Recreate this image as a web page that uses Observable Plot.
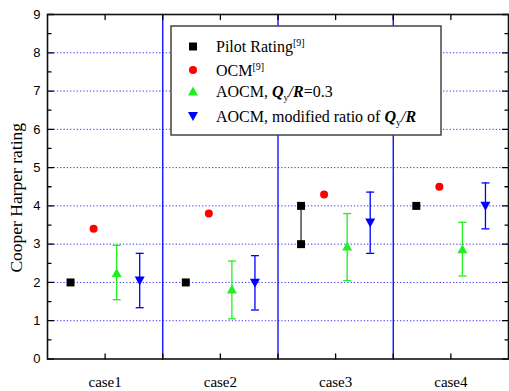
<!DOCTYPE html>
<html><head><meta charset="utf-8">
<script src="https://cdn.jsdelivr.net/npm/d3@7"></script>
<script src="https://cdn.jsdelivr.net/npm/@observablehq/plot@0.6"></script>
<style>body{margin:0;background:#fff} svg{display:block}</style>
</head><body><div id="chart"></div>
<script>
// ---- data ----
const cases = ["case1", "case2", "case3", "case4"];
const pilotLow = [2, 2, 3, 4];
const pilotHigh = [2, 2, 4, 4];
const ocm = [3.4, 3.8, 4.3, 4.5];
const aocm03 = [2.26, 1.83, 2.95, 2.88];
const aocm03Low = [1.55, 1.05, 2.05, 2.17];
const aocm03High = [2.97, 2.56, 3.80, 3.57];
const aocmMod = [2.04, 1.98, 3.55, 3.99];
const aocmModLow = [1.34, 1.28, 2.76, 3.40];
const aocmModHigh = [2.76, 2.70, 4.36, 4.60];
const yTicks = [0, 1, 2, 3, 4, 5, 6, 7, 8, 9];
const yLabel = "Cooper Harper rating";

// ---- derived tables ----
const caseX = cases.map((c, i) => i + 1);
const separators = caseX.slice(0, -1).map(x => x + 0.5);
const gridY = yTicks.slice(1, -1);
const minorY = yTicks.slice(0, -1).map(v => v + 0.5);
const xTickPos = [...caseX, ...separators];
const offs = {pilot: -0.3, ocm: -0.1, a03: 0.1, mod: 0.3};

const pilotRows = cases.map((c, i) => ({x: caseX[i] + offs.pilot, lo: pilotLow[i], hi: pilotHigh[i]}));
const pilotPts = pilotRows.flatMap(d => d.lo === d.hi ? [{x: d.x, y: d.lo}] : [{x: d.x, y: d.lo}, {x: d.x, y: d.hi}]);
const ocmRows = cases.map((c, i) => ({x: caseX[i] + offs.ocm, y: ocm[i]}));
const a03Rows = cases.map((c, i) => ({x: caseX[i] + offs.a03, y: aocm03[i], lo: aocm03Low[i], hi: aocm03High[i]}));
const modRows = cases.map((c, i) => ({x: caseX[i] + offs.mod, y: aocmMod[i], lo: aocmModLow[i], hi: aocmModHigh[i]}));

// ---- symbols ----
const triUp = {draw(ctx, size) { const r = Math.sqrt(size / Math.PI); ctx.moveTo(0, -0.9 * r); ctx.lineTo(r, 0.9 * r); ctx.lineTo(-r, 0.9 * r); ctx.closePath(); }};
const triDown = {draw(ctx, size) { const r = Math.sqrt(size / Math.PI); ctx.moveTo(0, 0.9 * r); ctx.lineTo(r, -0.9 * r); ctx.lineTo(-r, -0.9 * r); ctx.closePath(); }};
const capSym = {draw(ctx, size) { const r = Math.sqrt(size / Math.PI); ctx.moveTo(-r, 0); ctx.lineTo(r, 0); }};
const tickShape = {draw(ctx, l) { ctx.moveTo(0, 0); ctx.lineTo(0, -l); }};

const green = "#22ee22";
const blue = "#0000ff";

function errorBars(rows, color) {
  return [
    Plot.ruleX(rows, {x: "x", y1: "lo", y2: "hi", stroke: color, strokeWidth: 1.3}),
    Plot.dot(rows, {x: "x", y: "lo", symbol: capSym, r: 4, stroke: color, strokeWidth: 1.3, fill: "none"}),
    Plot.dot(rows, {x: "x", y: "hi", symbol: capSym, r: 4, stroke: color, strokeWidth: 1.3, fill: "none"})
  ];
}

const plot = Plot.plot({
  width: 509, height: 391,
  marginLeft: 47, marginRight: 1, marginTop: 14, marginBottom: 32.5,
  x: {domain: [0.5, 4.5]},
  y: {domain: [0, 9]},
  style: {background: "white", fontFamily: "'Liberation Serif', 'Times New Roman', serif"},
  marks: [
    Plot.ruleY(gridY, {stroke: "#3a3aff", strokeDasharray: "1.3,2", strokeWidth: 1}),
    Plot.ruleX(separators, {stroke: blue, strokeWidth: 1.3}),
    // inward ticks
    Plot.vector(yTicks, {y: d => d, frameAnchor: "left", rotate: 90, length: 6, anchor: "start", shape: tickShape, stroke: "#000", strokeWidth: 1.3}),
    Plot.vector(minorY, {y: d => d, frameAnchor: "left", rotate: 90, length: 3.5, anchor: "start", shape: tickShape, stroke: "#000", strokeWidth: 1.3}),
    Plot.vector(yTicks, {y: d => d, frameAnchor: "right", rotate: -90, length: 6, anchor: "start", shape: tickShape, stroke: "#000", strokeWidth: 1.3}),
    Plot.vector(minorY, {y: d => d, frameAnchor: "right", rotate: -90, length: 3.5, anchor: "start", shape: tickShape, stroke: "#000", strokeWidth: 1.3}),
    Plot.vector(xTickPos, {x: d => d, frameAnchor: "bottom", rotate: 0, length: 5, anchor: "start", shape: tickShape, stroke: "#000", strokeWidth: 1.3}),
    Plot.vector(xTickPos, {x: d => d, frameAnchor: "top", rotate: 180, length: 5, anchor: "start", shape: tickShape, stroke: "#000", strokeWidth: 1.3}),
    Plot.frame({stroke: "#111", strokeWidth: 1.6}),
    Plot.axisY({ticks: yTicks, tickSize: 0, tickPadding: 7, fontSize: 13, fontFamily: "'Liberation Sans', Arial, sans-serif", label: null}),
    Plot.axisX({ticks: caseX, tickSize: 0, tickPadding: 17.5, tickFormat: d => cases[d - 1], fontSize: 15, label: null}),
    Plot.text([yLabel], {frameAnchor: "left", rotate: -90, dx: -31, dy: 11, fontSize: 17.5, lineAnchor: "middle", textAnchor: "middle"}),
    // pilot
    Plot.ruleX(pilotRows.filter(d => d.lo !== d.hi), {x: "x", y1: "lo", y2: "hi", stroke: "#555", strokeWidth: 1.6}),
    Plot.dot(pilotPts, {x: "x", y: "y", symbol: "square", r: 4.5, fill: "#000"}),
    // OCM
    Plot.dot(ocmRows, {x: "x", y: "y", r: 4, fill: "#ff0000"}),
    // AOCM 0.3
    ...errorBars(a03Rows, green),
    Plot.dot(a03Rows, {x: "x", y: "y", symbol: triUp, r: 5, fill: green}),
    // AOCM modified
    ...errorBars(modRows, blue),
    Plot.dot(modRows, {x: "x", y: "y", symbol: triDown, r: 5, fill: blue})
  ]
});

// ---- legend (inside plot frame) ----
const svg = d3.select(plot);
const lg = svg.append("g").attr("font-family", "'Liberation Serif', 'Times New Roman', serif")
  .attr("font-size", 16).attr("fill", "#000").attr("text-anchor", "start");
lg.append("rect").attr("x", 171).attr("y", 26).attr("width", 270).attr("height", 109)
  .attr("fill", "#fff").attr("stroke", "#444").attr("stroke-width", 1.5);
const mx = 193, tx = 216;
const rowsY = [46.5, 70, 91, 116.5];
const sym = (s, r) => d3.symbol(s, Math.PI * r * r)();
lg.append("path").attr("transform", `translate(${mx},${rowsY[0]})`).attr("d", sym(d3.symbolSquare, 4.5)).attr("fill", "#000");
lg.append("path").attr("transform", `translate(${mx},${rowsY[1]})`).attr("d", sym(d3.symbolCircle, 4)).attr("fill", "#ff0000");
lg.append("path").attr("transform", `translate(${mx},${rowsY[2]})`).attr("d", sym(triUp, 5)).attr("fill", green);
lg.append("path").attr("transform", `translate(${mx},${rowsY[3]})`).attr("d", sym(triDown, 5)).attr("fill", blue);

function sup(t, base, s) {
  t.append("tspan").text(base);
  t.append("tspan").text(s).attr("font-size", 10).attr("dy", -6);
}
let t = lg.append("text").attr("x", tx).attr("y", rowsY[0] + 5.5); sup(t, "Pilot Rating", "[9]");
t = lg.append("text").attr("x", tx).attr("y", rowsY[1] + 5.5); sup(t, "OCM", "[9]");
function qr(t) {
  t.append("tspan").text("Q").attr("font-weight", "bold").attr("font-style", "italic");
  t.append("tspan").text("y").attr("font-size", 10).attr("dy", 4);
  t.append("tspan").text("/").attr("dy", -4).attr("font-style", "italic");
  t.append("tspan").text("R").attr("font-weight", "bold").attr("font-style", "italic");
}
t = lg.append("text").attr("x", tx).attr("y", rowsY[2] + 5.5);
t.append("tspan").text("AOCM, "); qr(t); t.append("tspan").text("=0.3");
t = lg.append("text").attr("x", tx).attr("y", rowsY[3] + 5.5);
t.append("tspan").text("AOCM, modified ratio of "); qr(t);

document.getElementById("chart").appendChild(plot);
</script>
</body></html>
